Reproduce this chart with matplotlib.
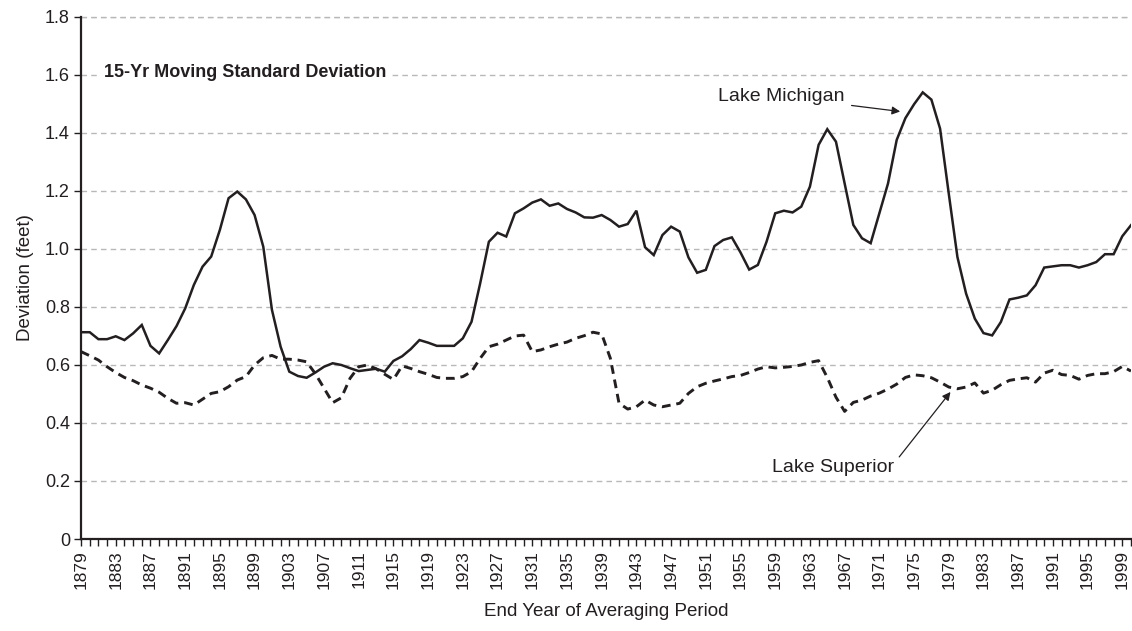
#!/usr/bin/env python3
"""
15-year moving standard deviation of lake levels, Michigan vs Superior
"""

import numpy as np
import matplotlib
matplotlib.use("Agg")
import matplotlib.pyplot as plt
from matplotlib.ticker import MultipleLocator, FuncFormatter

plt.rcParams['font.family'] = ['Liberation Sans', 'DejaVu Sans']

FIRST_YEAR = 1879
LAST_YEAR = 2000

michigan = [
    0.713, 0.713, 0.689, 0.689, 0.699, 0.686, 0.709, 0.738, 0.666, 0.640,
    0.686, 0.734, 0.795, 0.876, 0.939, 0.974, 1.066, 1.175, 1.198,
    1.171, 1.117, 1.008, 0.790, 0.663, 0.577, 0.562, 0.556, 0.574, 0.594,
    0.606, 0.600, 0.589, 0.579, 0.583, 0.587, 0.577, 0.614, 0.630, 0.655,
    0.686, 0.677, 0.666, 0.666, 0.666, 0.692, 0.749, 0.882, 1.025, 1.056,
    1.043, 1.123, 1.140, 1.160, 1.171, 1.149, 1.157, 1.138, 1.126,
    1.109, 1.108, 1.117, 1.100, 1.077, 1.086, 1.132, 1.006, 0.979, 1.048,
    1.077, 1.060, 0.971, 0.918, 0.928, 1.010, 1.031, 1.040, 0.988, 0.929,
    0.945, 1.025, 1.123, 1.132, 1.126, 1.146, 1.215, 1.359, 1.413, 1.370,
    1.226, 1.083, 1.037, 1.020, 1.123, 1.226, 1.376, 1.451, 1.499, 1.540,
    1.515, 1.415, 1.191, 0.972, 0.846, 0.760, 0.710, 0.702, 0.748, 0.826,
    0.832, 0.840, 0.875, 0.936, 0.940, 0.944, 0.944, 0.936, 0.944, 0.955,
    0.982, 0.982, 1.044, 1.082,
]

superior = [
    0.646, 0.632, 0.617, 0.594, 0.574, 0.557, 0.546, 0.531, 0.520, 0.506,
    0.485, 0.468, 0.470, 0.462, 0.482, 0.502, 0.508, 0.525, 0.548,
    0.560, 0.600, 0.625, 0.633, 0.620, 0.620, 0.617, 0.611, 0.570, 0.520,
    0.470, 0.487, 0.554, 0.594, 0.600, 0.587, 0.568, 0.550, 0.597, 0.588,
    0.577, 0.568, 0.557, 0.554, 0.554, 0.560, 0.577, 0.623, 0.663, 0.672,
    0.686, 0.700, 0.703, 0.646, 0.652, 0.663, 0.672, 0.679, 0.692,
    0.701, 0.713, 0.707, 0.623, 0.468, 0.448, 0.456, 0.479, 0.462, 0.456,
    0.462, 0.468, 0.502, 0.525, 0.537, 0.545, 0.552, 0.560, 0.564, 0.574,
    0.586, 0.594, 0.590, 0.592, 0.595, 0.600, 0.609, 0.615, 0.557, 0.489,
    0.440, 0.471, 0.479, 0.493, 0.503, 0.517, 0.534, 0.557, 0.566, 0.563,
    0.556, 0.541, 0.524, 0.518, 0.524, 0.538, 0.503, 0.513, 0.532, 0.547,
    0.552, 0.556, 0.541, 0.572, 0.582, 0.567, 0.564, 0.551, 0.564, 0.570,
    0.570, 0.577, 0.595, 0.579,
]

years = np.arange(FIRST_YEAR, LAST_YEAR + 1)
label_years = np.arange(1879, 2000, 4)

INK = '#231f20'
GRID = '#b8b8b8'


def fmt_y(val, _pos):
    if abs(val) < 1e-9:
        return '0'
    return f'{val:.1f}'


def main():
    fig = plt.figure(figsize=(11.32, 6.31), dpi=100)
    ax = fig.add_axes([0.0716, 0.1458, 0.9275, 0.8273])

    ax.plot(years, michigan, color=INK, lw=1.8, solid_joinstyle='miter', zorder=3)
    ax.plot(years, superior, color=INK, lw=2.1, linestyle=(0, (3.0, 2.0)), zorder=3)

    ax.set_xlim(FIRST_YEAR, LAST_YEAR)
    ax.set_ylim(0, 1.8)

    # horizontal dashed grid
    ax.yaxis.set_major_locator(MultipleLocator(0.2))
    ax.yaxis.set_major_formatter(FuncFormatter(fmt_y))
    ax.grid(axis='y', color=GRID, linestyle=(0, (4, 3)), lw=1.0, zorder=0)
    ax.axhline(1.8, color=GRID, linestyle=(0, (4, 3)), lw=1.0, zorder=0, clip_on=False)

    ax.set_xticks(label_years)
    ax.set_xticks(years, minor=True)
    ax.set_xticklabels([str(y) for y in label_years], rotation=90)

    for side in ('top', 'right'):
        ax.spines[side].set_visible(False)
    for side in ('left', 'bottom'):
        ax.spines[side].set_color(INK)
        ax.spines[side].set_linewidth(1.6)

    ax.tick_params(axis='x', which='both', direction='out', length=5, width=1.0,
                   color=INK, labelsize=12.5, labelcolor=INK, pad=3)
    ax.tick_params(axis='y', direction='out', length=5, width=1.0, color=INK,
                   labelsize=13, labelcolor=INK, pad=3)

    ax.set_ylabel('Deviation (feet)', fontsize=13.5, color=INK, labelpad=8)
    ax.set_xlabel('End Year of Averaging Period', fontsize=13.5, color=INK, labelpad=10)

    ax.text(1881.6, 1.61, '15-Yr Moving Standard Deviation', fontsize=13,
            fontweight='bold', color=INK, va='center', ha='left', zorder=4,
            bbox=dict(facecolor='white', edgecolor='none', pad=4))

    ax.annotate('Lake Michigan', xy=(1973.4, 1.474), xytext=(1967.0, 1.525),
                fontsize=14, color=INK, ha='right', va='center', zorder=4,
                arrowprops=dict(arrowstyle='-|>', color=INK, lw=0.9,
                                shrinkA=3, shrinkB=0, mutation_scale=12))
    ax.annotate('Lake Superior', xy=(1979.2, 0.507), xytext=(1958.6, 0.245),
                fontsize=14, color=INK, ha='left', va='center', zorder=4,
                arrowprops=dict(arrowstyle='-|>', color=INK, lw=0.9,
                                shrinkA=3, shrinkB=0, mutation_scale=12,
                                relpos=(1.0, 0.75)))

    fig.savefig('out.png', dpi=100, facecolor='white')


if __name__ == '__main__':
    main()
